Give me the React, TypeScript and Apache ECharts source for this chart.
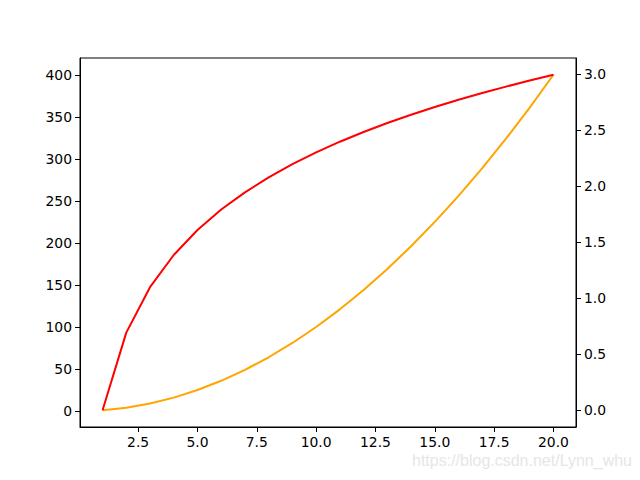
import React, { useEffect, useRef } from "react";
import * as echarts from "echarts";

const xValues = [1, 2, 3, 4, 5, 6, 7, 8, 9, 10, 11, 12, 13, 14, 15, 16, 17, 18, 19, 20];
const squareValues = [1, 4, 9, 16, 25, 36, 49, 64, 81, 100, 121, 144, 169, 196, 225, 256, 289, 324, 361, 400];
const logValues = [0, 0.693, 1.099, 1.386, 1.609, 1.792, 1.946, 2.079, 2.197, 2.303, 2.398, 2.485, 2.565, 2.639, 2.708, 2.773, 2.833, 2.89, 2.944, 2.996];
const xTicks = [2.5, 5, 7.5, 10, 12.5, 15, 17.5, 20];
const leftTicks = [0, 50, 100, 150, 200, 250, 300, 350, 400];
const rightTicks = [0, 0.5, 1, 1.5, 2, 2.5, 3];

const FONT = "DejaVu Sans";
const FS = 13.9;

export default function App() {
  const ref = useRef<HTMLDivElement>(null);
  useEffect(() => {
    const chart = echarts.init(ref.current!, null, { renderer: "svg" });
    const axisCommon = {
      axisLine: { show: true, onZero: false, lineStyle: { color: "#000", width: 1 } },
      axisTick: { show: true, inside: false, length: 5, lineStyle: { color: "#000", width: 1 } },
      splitLine: { show: false },
    };
    chart.setOption({
      animation: false,
      backgroundColor: "#fff",
      grid: { left: 80, right: 64, top: 58, bottom: 53, show: true, borderColor: "#000", borderWidth: 1, containLabel: false },
      xAxis: {
        type: "value",
        min: 0.05,
        max: 20.95,
        ...axisCommon,
        axisTick: { ...axisCommon.axisTick, customValues: xTicks },
        axisLabel: { customValues: xTicks, formatter: (v: number) => v.toFixed(1), color: "#000", fontFamily: FONT, fontSize: FS, margin: 8 },
      },
      yAxis: [
        {
          type: "value",
          min: -18.95,
          max: 419.95,
          position: "left",
          ...axisCommon,
          axisTick: { ...axisCommon.axisTick, customValues: leftTicks },
          axisLabel: { customValues: leftTicks, formatter: (v: number) => String(v), color: "#000", fontFamily: FONT, fontSize: FS, margin: 8 },
        },
        {
          type: "value",
          min: -0.1498,
          max: 3.1455,
          position: "right",
          ...axisCommon,
          axisTick: { ...axisCommon.axisTick, customValues: rightTicks },
          axisLabel: { customValues: rightTicks, formatter: (v: number) => v.toFixed(1), color: "#000", fontFamily: FONT, fontSize: FS, margin: 8 },
        },
      ],
      series: [
        {
          type: "line",
          yAxisIndex: 0,
          data: xValues.map((x, i) => [x, squareValues[i]]),
          showSymbol: false,
          lineStyle: { color: "#ffa500", width: 2 },
          itemStyle: { color: "#ffa500" },
        },
        {
          type: "line",
          yAxisIndex: 1,
          data: xValues.map((x, i) => [x, logValues[i]]),
          showSymbol: false,
          lineStyle: { color: "#ff0000", width: 2 },
          itemStyle: { color: "#ff0000" },
        },
      ],
      graphic: [
        {
          type: "text",
          right: 8,
          top: 452,
          style: { text: "https://blog.csdn.net/Lynn_whu", fill: "#e6e6e6", font: `16px 'Liberation Sans'` },
        },
      ],
    });
    return () => chart.dispose();
  }, []);
  return <div ref={ref} style={{ width: 640, height: 480, position: "absolute", left: 0, top: 0 }} />;
}
